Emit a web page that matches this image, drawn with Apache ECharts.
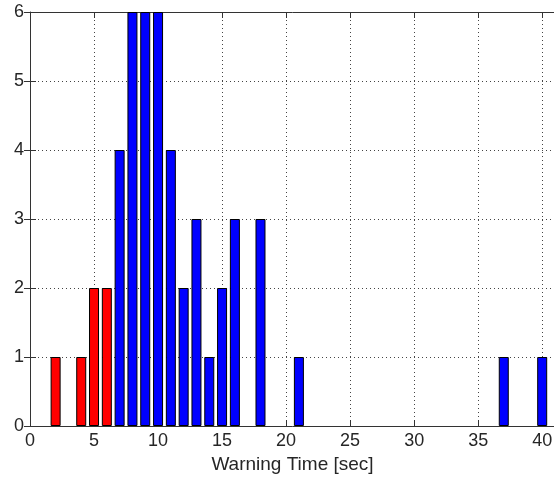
<!DOCTYPE html>
<html>
<head>
<meta charset="utf-8">
<script src="https://cdn.jsdelivr.net/npm/echarts@6/dist/echarts.min.js"></script>
<style>html,body{margin:0;padding:0;background:#fff;overflow:hidden}#c{width:554px;height:483px}</style>
</head>
<body>
<div id="c"></div>
<script>
// Warning-time histogram (counts per 1-sec bin)
var redTimes = [2, 4, 5, 6];
var redCounts = [1, 1, 2, 2];
var blueTimes = [7, 8, 9, 10, 11, 12, 13, 14, 15, 16, 18, 21, 37, 40];
var blueCounts = [4, 6, 6, 6, 4, 2, 3, 1, 2, 3, 3, 1, 1, 1];
var xTicks = [0, 5, 10, 15, 20, 25, 30, 35, 40];
var yTicks = [0, 1, 2, 3, 4, 5, 6];
var xLabel = 'Warning Time [sec]';

function pairs(xs, ys) { return xs.map(function (x, i) { return [x, ys[i]]; }); }

var font = 'Liberation Sans, Arial, sans-serif';
var axisCol = '#333';
var gridStyle = { color: '#444', width: 1, type: [1, 3] };

var chart = echarts.init(document.getElementById('c'), null, { renderer: 'canvas', width: 554, height: 483 });
chart.setOption({
  animation: false,
  grid: { left: 30, width: 525, top: 12, height: 414, containLabel: false, outerBoundsMode: 'none' },
  xAxis: [{
    type: 'value', min: 0, max: 41, interval: 5,
    name: xLabel, nameLocation: 'middle', nameGap: 28,
    nameTextStyle: { fontFamily: font, fontSize: 19, color: '#262626' },
    axisLine: { show: true, onZero: false, lineStyle: { color: axisCol, width: 1 } },
    axisTick: { show: true, inside: true, length: 6, lineStyle: { color: axisCol } },
    axisLabel: { show: true, margin: 6, fontFamily: font, fontSize: 18, color: '#262626', showMaxLabel: false,
      formatter: function (v) { return xTicks.indexOf(v) >= 0 ? String(v) : ''; } },
    splitLine: { show: true, lineStyle: gridStyle }
  }, {
    type: 'value', min: 0, max: 41, interval: 5, position: 'top',
    axisLine: { show: true, onZero: false, lineStyle: { color: axisCol, width: 1 } },
    axisTick: { show: true, inside: true, length: 6, lineStyle: { color: axisCol } },
    axisLabel: { show: false }, splitLine: { show: false }
  }],
  yAxis: [{
    type: 'value', min: 0, max: 6, interval: 1,
    axisLine: { show: true, lineStyle: { color: axisCol, width: 1 } },
    axisTick: { show: true, inside: true, length: 6, lineStyle: { color: axisCol } },
    axisLabel: { show: true, margin: 6, fontFamily: font, fontSize: 18, color: '#262626',
      formatter: function (v) { return yTicks.indexOf(v) >= 0 ? String(v) : ''; } },
    splitLine: { show: true, lineStyle: gridStyle }
  }, {
    type: 'value', min: 0, max: 6, interval: 1, position: 'right',
    axisLine: { show: false },
    axisTick: { show: true, inside: true, length: 6, lineStyle: { color: axisCol } },
    axisLabel: { show: false }, splitLine: { show: false }
  }],
  series: [{
    type: 'bar', xAxisIndex: 0, yAxisIndex: 0, barWidth: 10, barGap: '-100%',
    itemStyle: { color: '#ff0000', borderColor: '#000', borderWidth: 1 },
    data: pairs(redTimes, redCounts)
  }, {
    type: 'bar', xAxisIndex: 0, yAxisIndex: 0, barWidth: 10, barGap: '-100%',
    itemStyle: { color: '#0000ff', borderColor: '#000', borderWidth: 1 },
    data: pairs(blueTimes, blueCounts)
  }]
});
</script>
</body>
</html>
